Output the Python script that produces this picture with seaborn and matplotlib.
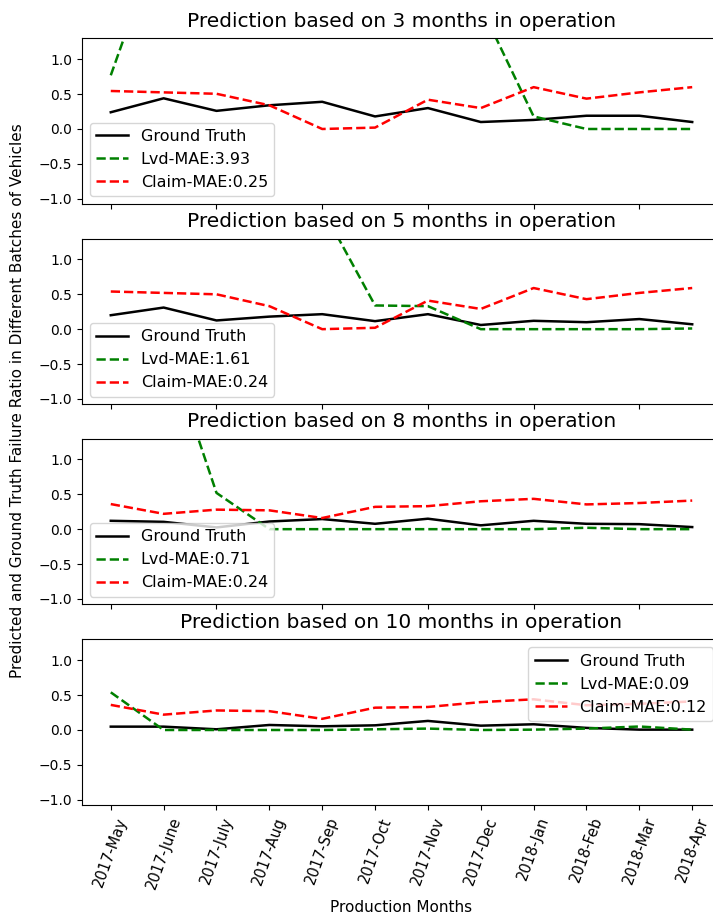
import matplotlib
matplotlib.use("Agg")
import matplotlib.pyplot as plt
import seaborn as sns
import numpy as np

months = ["2017-May", "2017-June", "2017-July", "2017-Aug", "2017-Sep", "2017-Oct",
          "2017-Nov", "2017-Dec", "2018-Jan", "2018-Feb", "2018-Mar", "2018-Apr"]

horizons = [3, 5, 8, 10]

ground_truth_3 = [0.24, 0.44, 0.26, 0.34, 0.39, 0.18, 0.30, 0.10, 0.13, 0.19, 0.19, 0.10]
lvd_3 = [0.77, 2.90, 6.50, 9.80, 11.20, 9.40, 6.60, 1.76, 0.18, 0.00, 0.00, 0.00]
claim_3 = [0.545, 0.525, 0.505, 0.34, 0.00, 0.02, 0.42, 0.30, 0.60, 0.435, 0.525, 0.60]

ground_truth_5 = [0.20, 0.31, 0.125, 0.18, 0.215, 0.115, 0.215, 0.06, 0.12, 0.10, 0.145, 0.07]
lvd_5 = [3.20, 4.60, 5.60, 4.40, 1.73, 0.34, 0.33, 0.00, 0.00, 0.00, 0.00, 0.01]
claim_5 = [0.54, 0.52, 0.50, 0.33, 0.00, 0.02, 0.41, 0.29, 0.59, 0.43, 0.52, 0.59]

ground_truth_8 = [0.12, 0.105, 0.025, 0.11, 0.145, 0.077, 0.15, 0.055, 0.12, 0.077, 0.072, 0.03]
lvd_8 = [4.65, 2.78, 0.52, 0.00, 0.00, 0.00, 0.00, 0.00, 0.00, 0.02, 0.00, 0.00]
claim_8 = [0.36, 0.22, 0.28, 0.27, 0.16, 0.32, 0.33, 0.40, 0.435, 0.355, 0.375, 0.41]

ground_truth_10 = [0.048, 0.048, 0.01, 0.072, 0.053, 0.067, 0.13, 0.062, 0.082, 0.03, 0.005, 0.005]
lvd_10 = [0.54, 0.00, 0.00, 0.00, 0.00, 0.01, 0.02, 0.00, 0.005, 0.02, 0.05, 0.005]
claim_10 = [0.36, 0.22, 0.28, 0.27, 0.16, 0.32, 0.33, 0.40, 0.44, 0.355, 0.375, 0.41]

lvd_labels = ["Lvd-MAE:3.93", "Lvd-MAE:1.61", "Lvd-MAE:0.71", "Lvd-MAE:0.09"]
claim_labels = ["Claim-MAE:0.25", "Claim-MAE:0.24", "Claim-MAE:0.24", "Claim-MAE:0.12"]

truth_series = [ground_truth_3, ground_truth_5, ground_truth_8, ground_truth_10]
lvd_series = [lvd_3, lvd_5, lvd_8, lvd_10]
claim_series = [claim_3, claim_5, claim_8, claim_10]

plt.rcParams["font.family"] = ["DejaVu Sans"]

fig = plt.figure(figsize=(7.13, 9.17), dpi=100)

left, width, height = 0.1146, 0.897, 0.181
bottoms = [0.7772, 0.5589, 0.3408, 0.1218]

x = np.arange(len(months))
axes = []
for i, h in enumerate(horizons):
    ax = fig.add_axes([left, bottoms[i], width, height])
    axes.append(ax)
    sns.lineplot(x=x, y=truth_series[i], color="black", linewidth=1.8,
                 label="Ground Truth", ax=ax)
    sns.lineplot(x=x, y=lvd_series[i], color="green", linewidth=1.8,
                 linestyle="--", label=lvd_labels[i], ax=ax)
    sns.lineplot(x=x, y=claim_series[i], color="red", linewidth=1.8,
                 linestyle="--", label=claim_labels[i], ax=ax)
    ax.set_ylim(-1.08, 1.3)
    ax.set_xlim(-0.55, len(months) - 1 + 0.55)
    ax.set_yticks([-1.0, -0.5, 0.0, 0.5, 1.0])
    ax.tick_params(axis="y", labelsize=10)
    ax.set_title(f"Prediction based on {h} months in operation", fontsize=14.5, pad=8)
    if i < 3:
        ax.set_xticks(x[::2])
        ax.set_xticklabels([])
        ax.legend(loc="lower left", fontsize=11.5)
    else:
        ax.set_xticks(x)
        ax.set_xticklabels(months, rotation=70, fontsize=10.5)
        ax.set_xlabel("Production Months", fontsize=11, labelpad=6)
        ax.legend(loc="upper right", fontsize=11.5)
    ax.set_ylabel("")

fig.text(0.025, 0.563,
         "Predicted and Ground Truth Failure Ratio in Different Batches of Vehicles",
         rotation=90, ha="center", va="center", fontsize=11)

fig.savefig("out.png", dpi=100)
